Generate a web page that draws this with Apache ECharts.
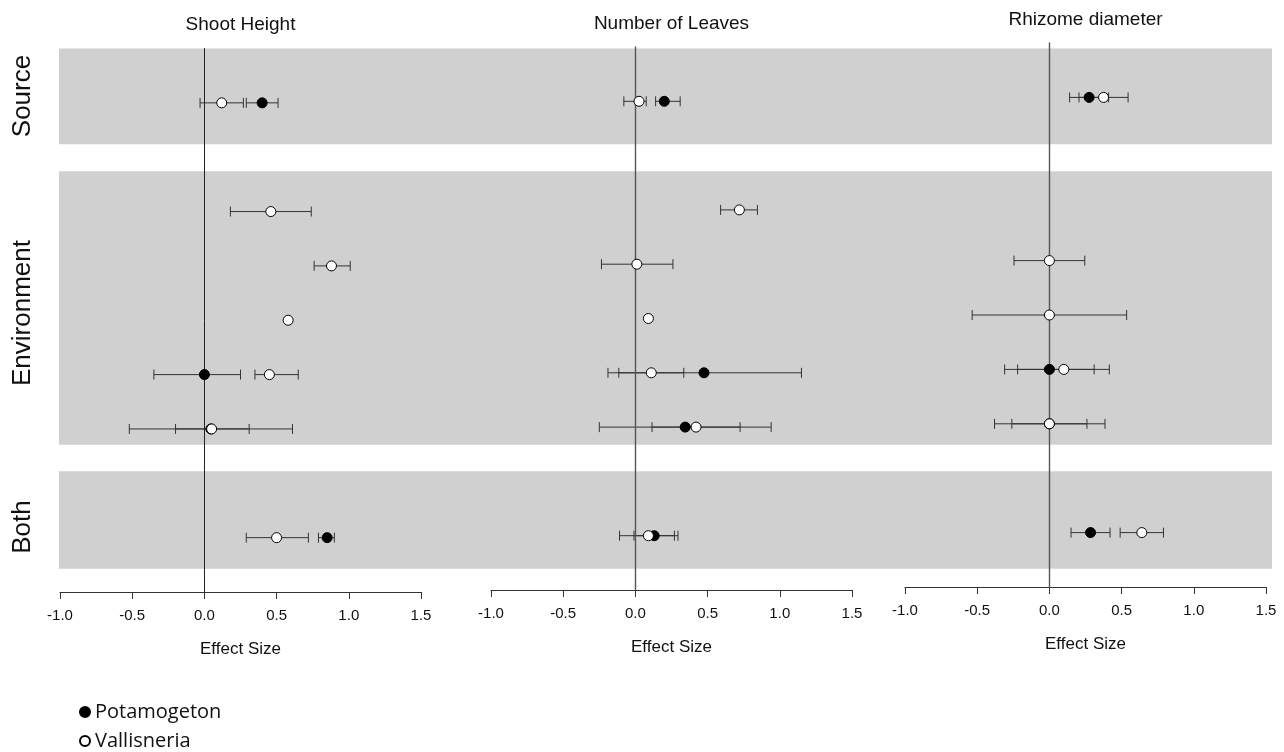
<!DOCTYPE html>
<html><head><meta charset="utf-8">
<script src="https://cdn.jsdelivr.net/npm/echarts@6/dist/echarts.min.js"></script>
<style>html,body{margin:0;padding:0;background:#fff}#c{width:1284px;height:752px}</style>
</head><body><div id="c"></div>
<script>
// Row positions (top to bottom): Source, 5 Environment rows, Both
const rowPos = [0, 2, 3, 4, 5, 6, 8];
const groupLabels = ['Source', 'Environment', 'Both'];
const bands = [[-1.0, 0.76], [1.26, 6.29], [6.78, 8.57]];
const panelTitles = ['Shoot Height', 'Number of Leaves', 'Rhizome diameter'];
const speciesNames = ['Potamogeton', 'Vallisneria'];
const xTicks = [-1.0, -0.5, 0.0, 0.5, 1.0, 1.5];

// Shoot Height
const shootPotMean = [0.40, null, null, null, 0.00, 0.045, 0.85];
const shootPotLo   = [0.29, null, null, null, -0.35, -0.52, 0.79];
const shootPotHi   = [0.51, null, null, null, 0.25, 0.61, 0.90];
const shootValMean = [0.12, 0.46, 0.88, 0.58, 0.45, 0.05, 0.50];
const shootValLo   = [-0.03, 0.18, 0.76, null, 0.35, -0.20, 0.29];
const shootValHi   = [0.27, 0.74, 1.01, null, 0.65, 0.31, 0.72];

// Number of Leaves
const leavesPotMean = [0.20, null, null, null, 0.475, 0.345, 0.13];
const leavesPotLo   = [0.14, null, null, null, -0.19, -0.25, -0.01];
const leavesPotHi   = [0.31, null, null, null, 1.15, 0.94, 0.27];
const leavesValMean = [0.025, 0.72, 0.01, 0.09, 0.11, 0.42, 0.09];
const leavesValLo   = [-0.08, 0.59, -0.235, null, -0.115, 0.115, -0.11];
const leavesValHi   = [0.075, 0.845, 0.26, null, 0.335, 0.725, 0.295];

// Rhizome diameter
const rhizPotMean = [0.275, null, null, null, 0.0, 0.0, 0.285];
const rhizPotLo   = [0.14, null, null, null, -0.31, -0.38, 0.15];
const rhizPotHi   = [0.41, null, null, null, 0.31, 0.385, 0.42];
const rhizValMean = [0.375, null, 0.0, 0.0, 0.10, 0.0, 0.64];
const rhizValLo   = [0.205, null, -0.245, -0.535, -0.22, -0.26, 0.49];
const rhizValHi   = [0.545, null, 0.245, 0.535, 0.415, 0.26, 0.79];

const panels = [
  {pot:[shootPotMean, shootPotLo, shootPotHi], val:[shootValMean, shootValLo, shootValHi]},
  {pot:[leavesPotMean, leavesPotLo, leavesPotHi], val:[leavesValMean, leavesValLo, leavesValHi]},
  {pot:[rhizPotMean, rhizPotLo, rhizPotHi], val:[rhizValMean, rhizValLo, rhizValHi]}
];

const FONT = '"Liberation Sans", Arial, Helvetica, sans-serif';
const gridsLayout = [
  {left: 60, width: 361, top: 48.5, height: 543.5},
  {left: 491, width: 361, top: 47, height: 543},
  {left: 905, width: 361, top: 43, height: 544}
];
const zeroLine = [{color:'#222', width:1}, {color:'#555', width:1.4}, {color:'#555', width:1.4}];

function errData(m, lo, hi) {
  const out = [];
  for (let i = 0; i < m.length; i++) if (lo[i] != null && hi[i] != null) out.push([rowPos[i], lo[i], hi[i]]);
  return out;
}
function ptData(m) {
  const out = [];
  for (let i = 0; i < m.length; i++) if (m[i] != null) out.push([m[i], rowPos[i]]);
  return out;
}
function renderErr(params, api) {
  const y = api.value(0), lo = api.value(1), hi = api.value(2);
  const a = api.coord([lo, y]), b = api.coord([hi, y]);
  const h = 5, st = {stroke:'#333', lineWidth:1};
  return {type:'group', children:[
    {type:'line', shape:{x1:a[0], y1:a[1], x2:b[0], y2:b[1]}, style:st},
    {type:'line', shape:{x1:a[0], y1:a[1]-h, x2:a[0], y2:a[1]+h}, style:st},
    {type:'line', shape:{x1:b[0], y1:b[1]-h, x2:b[0], y2:b[1]+h}, style:st}
  ]};
}

const grid = [{left:59, width:1213, top:48.5, height:543.5}].concat(gridsLayout);
const xAxis = [{gridIndex:0, type:'value', min:0, max:1, show:false}];
const yAxis = [{gridIndex:0, type:'value', min:-1, max:9, inverse:true, show:false}];
const series = [{
  type:'scatter', xAxisIndex:0, yAxisIndex:0, data:[], silent:true, z:0,
  markArea:{silent:true, z:0, itemStyle:{color:'#d0d0d0'}, data: bands.map(b => [{yAxis:b[0]}, {yAxis:b[1]}])}
}];
const titles = [];

panels.forEach((p, k) => {
  const gi = k + 1;
  xAxis.push({
    gridIndex: gi, type:'value', min: xTicks[0], max: xTicks[xTicks.length-1], interval: 0.5,
    axisLine:{show:true, onZero:false, lineStyle:{color:'#333', width:1}},
    axisTick:{show:true, length:7, lineStyle:{color:'#333'}},
    splitLine:{show:false},
    axisLabel:{margin:16, fontSize:15, color:'#111', fontFamily:FONT, formatter: v => v.toFixed(1)},
    name:'Effect Size', nameLocation:'middle', nameGap:49,
    nameTextStyle:{fontSize:17, color:'#111', fontFamily:FONT}
  });
  yAxis.push({
    gridIndex: gi, type:'value', min:-1, max:9, inverse:true, z:2,
    axisLine:{show:true, onZero:true, lineStyle:{color:zeroLine[k].color, width:zeroLine[k].width}},
    axisTick:{show:false}, axisLabel:{show:false}, splitLine:{show:false}
  });
  series.push({type:'custom', xAxisIndex:gi, yAxisIndex:gi, renderItem:renderErr, encode:{x:[1,2], y:0},
    data: errData(p.pot[0], p.pot[1], p.pot[2]), z:2, silent:true});
  series.push({type:'custom', xAxisIndex:gi, yAxisIndex:gi, renderItem:renderErr, encode:{x:[1,2], y:0},
    data: errData(p.val[0], p.val[1], p.val[2]), z:2, silent:true});
  series.push({name:speciesNames[0], type:'scatter', xAxisIndex:gi, yAxisIndex:gi, symbol:'circle', symbolSize:10,
    itemStyle:{color:'#000', borderColor:'#000', borderWidth:1, opacity:1}, data: ptData(p.pot[0]), z:3, silent:true});
  series.push({name:speciesNames[1], type:'scatter', xAxisIndex:gi, yAxisIndex:gi, symbol:'circle', symbolSize:10,
    itemStyle:{color:'#fff', borderColor:'#000', borderWidth:1, opacity:1}, data: ptData(p.val[0]), z:4, silent:true});
  const g = gridsLayout[k];
  titles.push({text: panelTitles[k], left: g.left + g.width/2, top: g.top - 33, textAlign:'center', padding:0,
    textStyle:{fontSize:19, fontWeight:'normal', color:'#111', fontFamily:FONT}});
});

const labelY = [96, 313, 527];
const graphic = groupLabels.map((t, i) => ({
  type:'text', x:23, y:labelY[i], rotation: Math.PI/2,
  style:{text:t, fontSize:26, fontFamily:FONT, fill:'#111', textAlign:'center', textVerticalAlign:'middle'}
}));

const legendTops = [702, 731];
const legend = speciesNames.map((n, i) => ({
  data:[n], orient:'vertical', left:79, top:legendTops[i], padding:0,
  icon:'circle', itemWidth:10, itemHeight:10, selectedMode:false,
  textStyle:{fontSize:20, color:'#111', fontFamily:'"Open Sans", "Noto Sans", sans-serif'}
}));

const chart = echarts.init(document.getElementById('c'), null, {renderer:'canvas'});
chart.setOption({
  animation:false,
  backgroundColor:'#fff',
  title: titles,
  grid, xAxis, yAxis, series, graphic, legend
});
</script></body></html>
